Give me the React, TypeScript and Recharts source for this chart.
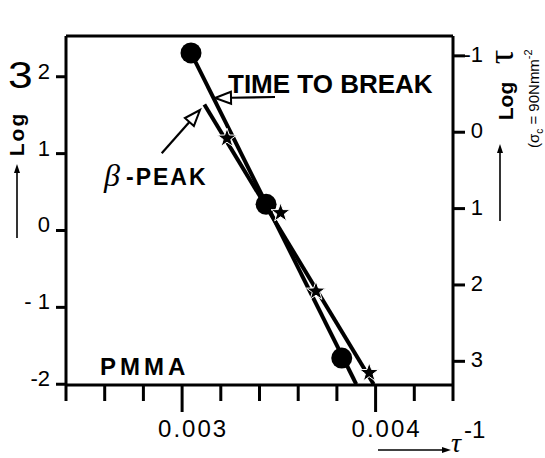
import React from 'react';
import { ComposedChart, Scatter, XAxis, YAxis, ReferenceLine, Customized } from 'recharts';

// ---- data ----
const xTicks = [0.0024, 0.0026, 0.0028, 0.003, 0.0032, 0.0034, 0.0036, 0.0038, 0.004, 0.0042, 0.0044];
const xMajorTicks = [0.003, 0.004];
const xTickLabels = ['0.003', '0.004'];
const leftTicks = [-2, -1, 0, 1, 2];
const leftTickLabels = ['-2', '- 1', '0', '1', '2'];
const rightTicks = [-1, 0, 1, 2, 3];
const rightTickLabels = ['-1', '0', '1', '2', '3'];

// time to break (circles) and its straight line
const breakPoints = [
  { x: 0.003046, y: 2.31 },
  { x: 0.003434, y: 0.34 },
  { x: 0.003825, y: -1.66 },
];
const breakFit = [
  { x: 0.003046, y: 2.31 },
  { x: 0.0039, y: -2.0 },
];
// beta peak (stars) and its straight line
const peakPoints = [
  { x: 0.003232, y: 1.2 },
  { x: 0.003509, y: 0.23 },
  { x: 0.003692, y: -0.79 },
  { x: 0.003967, y: -1.85 },
];
const peakFit = [
  { x: 0.003115, y: 1.64 },
  { x: 0.00399, y: -2.0 },
];

const X_DOMAIN: [number, number] = [0.0024, 0.0044];
const LEFT_DOMAIN: [number, number] = [-2.01, 2.53];
const RIGHT_DOMAIN: [number, number] = [-1.26, 3.31];

const FONT = '"Liberation Sans", Arial, sans-serif';

const XTick = (props: any) => {
  const { x, y, payload } = props;
  const v = payload.value;
  const idx = xMajorTicks.findIndex((m) => Math.abs(m - v) < 1e-9);
  const major = idx >= 0;
  return (
    <g>
      <line x1={x} x2={x} y1={y} y2={y + (major ? 27 : 16)} stroke="#000" strokeWidth={3} />
      {major && (
        <text x={x + 11} y={y + 52} textAnchor="middle" fontSize={24} letterSpacing={2} fontFamily={FONT} fill="#000">
          {xTickLabels[idx]}
        </text>
      )}
    </g>
  );
};

const LeftTick = (props: any) => {
  const { x, y, payload } = props;
  const idx = leftTicks.indexOf(payload.value);
  return (
    <g>
      <line x1={x - 10} x2={x} y1={y} y2={y} stroke="#000" strokeWidth={3} />
      <text x={x - 16} y={y + 2} textAnchor="end" fontSize={22} fontFamily={FONT} fill="#000">
        {leftTickLabels[idx]}
      </text>
    </g>
  );
};

const RightTick = (props: any) => {
  const { x, y, payload } = props;
  const idx = rightTicks.indexOf(payload.value);
  return (
    <g>
      <line x1={x} x2={x + 12} y1={y} y2={y} stroke="#000" strokeWidth={3} />
      <text x={x + 30} y={y + 6} textAnchor="end" fontSize={22} fontFamily={FONT} fill="#000">
        {rightTickLabels[idx]}
      </text>
    </g>
  );
};

const Circle = (props: any) => {
  const { cx, cy } = props;
  return <circle cx={cx} cy={cy} r={10.5} fill="#000" />;
};

const Star = (props: any) => {
  const { cx, cy } = props;
  const pts: string[] = [];
  for (let i = 0; i < 10; i++) {
    const r = i % 2 === 0 ? 10 : 4;
    const a = -Math.PI / 2 + (i * Math.PI) / 5;
    pts.push(`${cx + r * Math.cos(a)},${cy + r * Math.sin(a)}`);
  }
  return <polygon points={pts.join(' ')} fill="#000" stroke="#fff" strokeWidth={1} />;
};

const NoShape = () => <g />;

function openArrow(x1: number, y1: number, x2: number, y2: number, len: number, half: number) {
  const dx = x2 - x1;
  const dy = y2 - y1;
  const L = Math.sqrt(dx * dx + dy * dy);
  const ux = dx / L;
  const uy = dy / L;
  const bx = x2 - ux * len;
  const by = y2 - uy * len;
  const px = -uy;
  const py = ux;
  return (
    <g>
      <line x1={x1} y1={y1} x2={bx} y2={by} stroke="#000" strokeWidth={2.2} />
      <polygon
        points={`${x2},${y2} ${bx + px * half},${by + py * half} ${bx - px * half},${by - py * half}`}
        fill="#fff"
        stroke="#000"
        strokeWidth={2}
      />
    </g>
  );
}

function filledArrow(x1: number, y1: number, x2: number, y2: number) {
  const dx = x2 - x1;
  const dy = y2 - y1;
  const L = Math.sqrt(dx * dx + dy * dy);
  const ux = dx / L;
  const uy = dy / L;
  const len = 9;
  const half = 3;
  const bx = x2 - ux * len;
  const by = y2 - uy * len;
  const px = -uy;
  const py = ux;
  return (
    <g>
      <line x1={x1} y1={y1} x2={bx} y2={by} stroke="#000" strokeWidth={1.6} />
      <polygon points={`${x2},${y2} ${bx + px * half},${by + py * half} ${bx - px * half},${by - py * half}`} fill="#000" />
    </g>
  );
}

const Annotations = () => (
  <g fontFamily={FONT} fill="#000">
    {/* left axis title */}
    <text x={0} y={0} transform="translate(8,88) scale(1.2,1)" fontSize={37} fontFamily={FONT}>3</text>
    <text x={0} y={0} transform="translate(24,134) rotate(-90)" textAnchor="middle" fontSize={21} fontWeight="bold" letterSpacing={2}>Log</text>
    {filledArrow(17, 238, 17, 164)}

    {/* right axis title */}
    <text x={0} y={0} transform="translate(513,101) rotate(-90)" textAnchor="middle" fontSize={21} fontWeight="bold">Log</text>
    <text x={0} y={0} transform="translate(513,57) rotate(-90)" textAnchor="middle" fontSize={36} fontFamily='"Liberation Serif", serif'>τ</text>
    <text x={0} y={0} transform="translate(539,148) rotate(-90)" textAnchor="start" fontSize={15}>
      <tspan>(σ</tspan>
      <tspan fontSize={10} dy={4}>c</tspan>
      <tspan dy={-4}> = 90Nmm</tspan>
      <tspan fontSize={11} dy={-7}>-2</tspan>
    </text>
    {filledArrow(500, 221, 500, 144)}

    {/* bottom axis title */}
    {filledArrow(378, 450, 451, 450)}
    <text x={451} y={452} fontSize={28} fontStyle="italic" fontFamily='"Liberation Serif", serif'>τ</text>
    <text x={464} y={438} fontSize={24}>-1</text>

    {/* annotations */}
    <text x={228} y={93} fontSize={26} fontWeight="bold">TIME TO BREAK</text>
    {openArrow(275, 97, 215, 98, 16, 6)}

    <text x={104} y={186} fontSize={32} fontStyle="italic" fontFamily='"Liberation Serif", serif'>β</text>
    <text x={126} y={185} fontSize={23} fontWeight="bold" letterSpacing={2}>-PEAK</text>
    {openArrow(161.7, 153.3, 200, 110, 16, 6)}

    <text x={100} y={375} fontSize={24} fontWeight="bold" letterSpacing={4}>PMMA</text>
  </g>
);

export default function App() {
  return (
    <div style={{ position: 'absolute', left: 0, top: 0, background: '#fff' }}>
      <ComposedChart width={545} height={458} margin={{ top: 36, right: 0, bottom: 0, left: 0 }}>
        <XAxis
          dataKey="x"
          type="number"
          domain={X_DOMAIN}
          ticks={xTicks}
          interval={0}
          height={73}
          tickSize={0}
          tickMargin={0}
          tickLine={false}
          axisLine={{ stroke: '#000', strokeWidth: 3 }}
          tick={<XTick />}
          allowDataOverflow
        />
        <YAxis
          yAxisId="left"
          type="number"
          domain={LEFT_DOMAIN}
          ticks={leftTicks}
          interval={0}
          width={66}
          tickSize={0}
          tickMargin={0}
          tickLine={false}
          axisLine={{ stroke: '#000', strokeWidth: 3 }}
          tick={<LeftTick />}
          allowDataOverflow
        />
        <YAxis
          yAxisId="right"
          orientation="right"
          type="number"
          domain={RIGHT_DOMAIN}
          reversed
          ticks={rightTicks}
          interval={0}
          width={92}
          tickSize={0}
          tickMargin={0}
          tickLine={false}
          axisLine={{ stroke: '#000', strokeWidth: 3 }}
          tick={<RightTick />}
          allowDataOverflow
        />
        <ReferenceLine yAxisId="left" y={LEFT_DOMAIN[1]} stroke="#000" strokeWidth={3} />
        <Scatter yAxisId="left" data={breakFit} dataKey="y" line={{ stroke: '#000', strokeWidth: 4 }} shape={<NoShape />} isAnimationActive={false} />
        <Scatter yAxisId="left" data={peakFit} dataKey="y" line={{ stroke: '#000', strokeWidth: 4 }} shape={<NoShape />} isAnimationActive={false} />
        <Scatter yAxisId="left" data={breakPoints} dataKey="y" shape={<Circle />} isAnimationActive={false} />
        <Scatter yAxisId="left" data={peakPoints} dataKey="y" shape={<Star />} isAnimationActive={false} />
        <Customized component={Annotations} />
      </ComposedChart>
    </div>
  );
}
